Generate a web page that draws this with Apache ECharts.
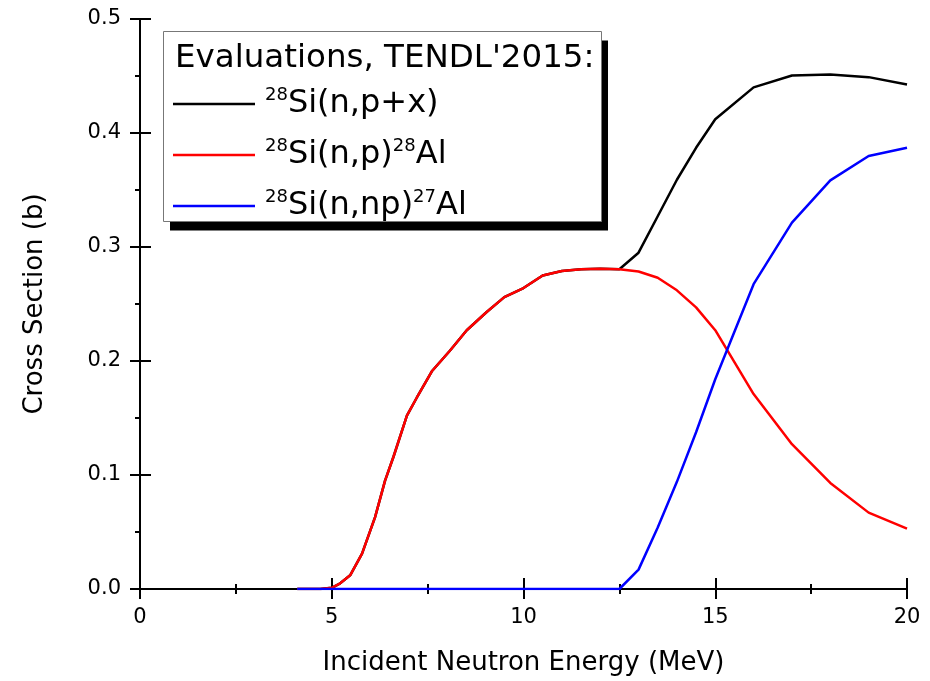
<!DOCTYPE html>
<html>
<head>
<meta charset="utf-8">
<script src="https://cdn.jsdelivr.net/npm/echarts@6/dist/echarts.min.js"></script>
<style>
  html, body { margin: 0; padding: 0; background: #fff; }
  #chart { width: 930px; height: 681px; }
</style>
</head>
<body>
<div id="chart"></div>
<script>
// TENDL-2015 evaluations
const energyPX = [4.1, 4.7, 5.0, 5.22, 5.48, 5.79, 6.13, 6.39, 6.61, 6.96, 7.22, 7.61, 8.08, 8.52, 9.04, 9.5, 10.0, 10.5, 11.0, 11.5, 12.0, 12.5, 13.0, 13.5, 14.0, 14.5, 15.0, 16.0, 17.0, 18.0, 19.0, 20.0];
const xsPX = [0, 0, 0.001, 0.005, 0.012, 0.031, 0.063, 0.095, 0.116, 0.152, 0.168, 0.191, 0.209, 0.227, 0.243, 0.256, 0.264, 0.275, 0.279, 0.2805, 0.281, 0.2805, 0.295, 0.327, 0.359, 0.387, 0.412, 0.440, 0.4504, 0.4513, 0.449, 0.4426];

const energyNP = [4.1, 4.7, 5.0, 5.22, 5.48, 5.79, 6.13, 6.39, 6.61, 6.96, 7.22, 7.61, 8.08, 8.52, 9.04, 9.5, 10.0, 10.5, 11.0, 11.5, 12.0, 12.5, 13.0, 13.5, 14.0, 14.5, 15.0, 16.0, 17.0, 18.0, 19.0, 20.0];
const xsNP = [0, 0, 0.001, 0.005, 0.012, 0.031, 0.063, 0.095, 0.116, 0.152, 0.168, 0.191, 0.209, 0.227, 0.243, 0.256, 0.264, 0.275, 0.279, 0.2805, 0.281, 0.2805, 0.2785, 0.273, 0.262, 0.247, 0.227, 0.171, 0.127, 0.093, 0.067, 0.053];

const energyNNP = [4.1, 12.5, 13.0, 13.5, 14.0, 14.5, 15.0, 16.0, 17.0, 18.0, 19.0, 20.0];
const xsNNP = [0, 0, 0.017, 0.054, 0.094, 0.1375, 0.184, 0.2674, 0.3214, 0.3584, 0.3798, 0.387];

const seriesNames = ['p+x', 'p', 'np'];
const legendLabels = {
  'p+x': '{sup|28}{m|Si(n,p+x)}',
  'p': '{sup|28}{m|Si(n,p)}{sup|28}{m|Al}',
  'np': '{sup|28}{m|Si(n,np)}{sup|27}{m|Al}'
};
const legendTitle = "Evaluations, TENDL'2015:";

const font = 'DejaVu Sans, sans-serif';

function zip(xs, ys) {
  return xs.map((x, i) => [x, ys[i]]);
}

const chart = echarts.init(document.getElementById('chart'));

const tickStyle = { color: '#000', width: 2 };

let option = {
  backgroundColor: '#fff',
  animation: false,
  textStyle: { fontFamily: font },
  grid: { left: 140, right: 23, top: 19, bottom: 92 },
  title: {
    text: legendTitle,
    left: 175,
    top: 42,
    padding: 0,
    z: 20,
    textStyle: { fontFamily: font, fontSize: 32.5, fontWeight: 'normal', color: '#000', lineHeight: 34 }
  },
  graphic: [
    { type: 'rect', z: 10, shape: { x: 170, y: 40.5, width: 438, height: 190 }, style: { fill: '#000' } },
    { type: 'rect', z: 11, shape: { x: 163.5, y: 31.5, width: 438, height: 190 }, style: { fill: '#fff', stroke: '#777', lineWidth: 1 } }
  ],
  legend: {
    data: seriesNames,
    orient: 'vertical',
    icon: 'rect',
    left: 173,
    top: 86,
    padding: 0,
    itemGap: 17,
    itemWidth: 82,
    itemHeight: 2.5,
    z: 20,
    formatter: (name) => legendLabels[name],
    textStyle: {
      padding: [0, 0, 0, 5],
      rich: {
        m: { fontFamily: font, fontSize: 32, lineHeight: 36, color: '#000' },
        sup: { fontFamily: font, fontSize: 18, lineHeight: 14, verticalAlign: 'top', color: '#000' }
      }
    }
  },
  xAxis: [
    {
      type: 'value', position: 'bottom', min: 0, max: 20, interval: 5,
      name: 'Incident Neutron Energy (MeV)', nameLocation: 'middle', nameGap: 61,
      nameTextStyle: { fontFamily: font, fontSize: 26, color: '#000' },
      axisLine: { lineStyle: { color: '#000', width: 2 } },
      axisTick: { inside: false, length: 10, lineStyle: tickStyle },
      minorTick: { show: true, splitNumber: 2, length: 5, lineStyle: tickStyle },
      axisLabel: { margin: 18, fontFamily: font, fontSize: 21, color: '#000' },
      splitLine: { show: false }
    },
    {
      type: 'value', position: 'top', min: 0, max: 20, interval: 5,
      axisLine: { lineStyle: { color: '#000', width: 2 } },
      axisTick: { inside: false, length: 11, lineStyle: tickStyle },
      minorTick: { show: true, splitNumber: 2, length: 5, lineStyle: tickStyle },
      axisLabel: { show: false },
      splitLine: { show: false }
    }
  ],
  yAxis: [
    {
      type: 'value', position: 'left', min: 0, max: 0.5, interval: 0.1,
      name: 'Cross Section (b)', nameLocation: 'middle', nameGap: 92,
      nameTextStyle: { fontFamily: font, fontSize: 26, color: '#000' },
      axisLine: { show: true, lineStyle: { color: '#000', width: 2 } },
      axisTick: { show: true, inside: false, length: 10, lineStyle: tickStyle },
      minorTick: { show: true, splitNumber: 2, length: 5, lineStyle: tickStyle },
      axisLabel: { margin: 19, fontFamily: font, fontSize: 21, color: '#000', formatter: (v) => v.toFixed(1) },
      splitLine: { show: false }
    },
    {
      type: 'value', position: 'right', min: 0, max: 0.5, interval: 0.1,
      axisLine: { show: true, lineStyle: { color: '#000', width: 2 } },
      axisTick: { show: true, inside: false, length: 11, lineStyle: tickStyle },
      axisLabel: { show: false },
      splitLine: { show: false }
    }
  ],
  series: [
    {
      name: 'p+x', type: 'line', symbol: 'none', z: 3,
      lineStyle: { color: '#000', width: 2.5 }, itemStyle: { color: '#000' },
      data: zip(energyPX, xsPX)
    },
    {
      name: 'p', type: 'line', symbol: 'none', z: 4,
      lineStyle: { color: '#ff0000', width: 2.5 }, itemStyle: { color: '#ff0000' },
      data: zip(energyNP, xsNP)
    },
    {
      name: 'np', type: 'line', symbol: 'none', z: 5,
      lineStyle: { color: '#0000ff', width: 2.5 }, itemStyle: { color: '#0000ff' },
      data: zip(energyNNP, xsNNP)
    }
  ]
};

chart.setOption(option);
</script>
</body>
</html>
